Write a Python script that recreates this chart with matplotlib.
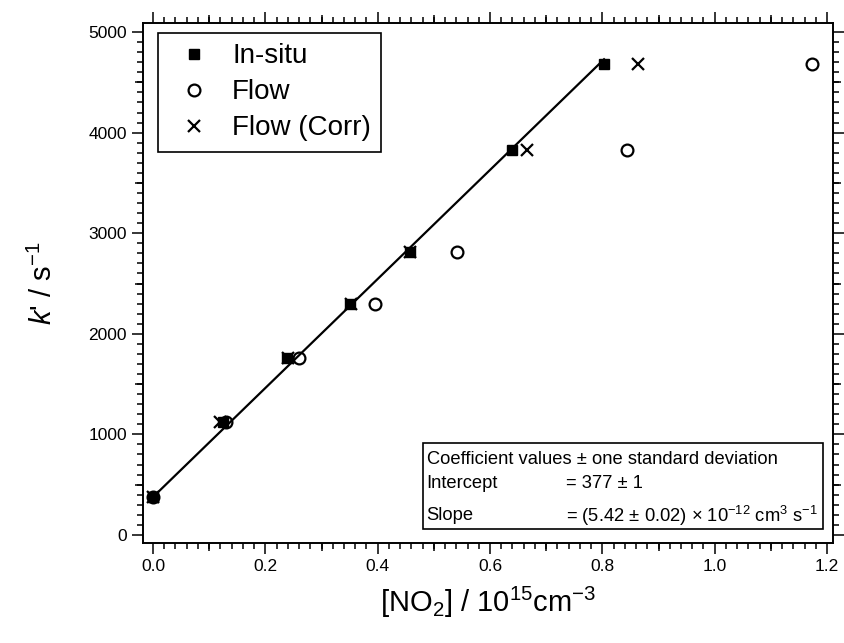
import matplotlib
matplotlib.use("Agg")
import matplotlib.pyplot as plt
from matplotlib.patches import Rectangle
from matplotlib.ticker import MultipleLocator, FormatStrFormatter
import numpy as np

plt.rcParams["font.family"] = ["Liberation Sans", "DejaVu Sans"]
plt.rcParams["mathtext.fontset"] = "custom"
plt.rcParams["mathtext.rm"] = "Liberation Sans"
plt.rcParams["mathtext.it"] = "Liberation Sans:italic"

# k' values (s^-1) shared by all three series
k_prime = [377, 1126, 1756, 2296, 2816, 3827, 4679]
# [NO2] / 1e15 cm^-3 for each method
no2_insitu = [0.0, 0.125, 0.238, 0.351, 0.457, 0.640, 0.803]
no2_flow = [0.0, 0.130, 0.260, 0.396, 0.541, 0.844, 1.173]
no2_corr = [0.0, 0.120, 0.240, 0.352, 0.458, 0.665, 0.863]

# fit coefficients
intercept = 377
slope = 5420  # per 1e15 cm^-3

fig = plt.figure(figsize=(8.44, 6.43), dpi=100)
ax = fig.add_axes([143 / 844, 1 - 543 / 643, 690 / 844, 520 / 643])

fit_x = np.array([0.0, max(no2_insitu)])
ax.plot(fit_x, intercept + slope * fit_x, color="black", lw=1.6, zorder=2)

ax.plot(no2_flow, k_prime, "o", ms=8.5, mfc="none", mec="black", mew=1.6,
        label="Flow", zorder=3)
ax.plot(no2_corr, k_prime, "x", ms=9, mec="black", mew=1.6,
        label="Flow (Corr)", zorder=4)
ax.plot(no2_insitu, k_prime, "s", ms=7.5, color="black",
        label="In-situ", zorder=5)

ax.set_xlim(-0.0178, 1.2106)
ax.set_ylim(-80, 5090)

ax.xaxis.set_major_locator(MultipleLocator(0.2))
ax.xaxis.set_minor_locator(MultipleLocator(0.02))
ax.yaxis.set_major_locator(MultipleLocator(1000))
ax.yaxis.set_minor_locator(MultipleLocator(100))
ax.xaxis.set_major_formatter(FormatStrFormatter("%.1f"))

ax.tick_params(which="both", direction="out", top=True, right=True,
               width=1.1, colors="black", labelsize=12.5)
ax.tick_params(which="major", length=8)
ax.tick_params(which="minor", length=4)
for s in ax.spines.values():
    s.set_linewidth(1.2)

# medium ticks (Igor style) at the half-way points
for loc in ["bottom", "top"]:
    sec = ax.secondary_xaxis(loc)
    sec.set_xticks(np.arange(0.1, 1.21, 0.2))
    sec.tick_params(length=6, width=1.1, direction="out",
                    labelbottom=False, labeltop=False)
    sec.spines[loc].set_linewidth(1.2)
for loc in ["left", "right"]:
    sec = ax.secondary_yaxis(loc)
    sec.set_yticks(np.arange(500, 5001, 1000))
    sec.tick_params(length=6, width=1.1, direction="out",
                    labelleft=False, labelright=False)
    sec.spines[loc].set_linewidth(1.2)

ax.set_xlabel("[NO$_2$] / 10$^{15}$cm$^{-3}$", fontsize=21, labelpad=8)
ax.set_ylabel("$k$' / s$^{-1}$", fontsize=21, labelpad=22)

handles, labels = ax.get_legend_handles_labels()
order = [2, 0, 1]
leg = ax.legend([handles[i] for i in order], [labels[i] for i in order],
                loc="upper left", bbox_to_anchor=(0.022, 0.981),
                fontsize=20, frameon=True, fancybox=False, edgecolor="black",
                framealpha=1, borderpad=0.38, labelspacing=0.36,
                handletextpad=0.48, handlelength=1.8, borderaxespad=0)
leg.get_frame().set_linewidth(1.2)

# coefficient box
ax.add_patch(Rectangle((0.406, 0.027), 0.579, 0.165, transform=ax.transAxes,
                       fill=False, edgecolor="black", lw=1.2, zorder=6))
tx0 = 0.411
tx1 = 0.613
fs = 13.2
ax.text(tx0, 0.160, "Coefficient values \u00b1 one standard deviation",
        transform=ax.transAxes, fontsize=fs, va="center")
ax.text(tx0, 0.114, "Intercept", transform=ax.transAxes, fontsize=fs, va="center")
ax.text(tx1, 0.114, "= %d \u00b1 1" % intercept, transform=ax.transAxes,
        fontsize=fs, va="center")
ax.text(tx0, 0.052, "Slope", transform=ax.transAxes, fontsize=fs, va="center")
ax.text(tx1, 0.052, "= (5.42 \u00b1 0.02) \u00d7 10$^{-12}$ cm$^{3}$ s$^{-1}$",
        transform=ax.transAxes, fontsize=fs, va="center")

fig.savefig("out.png", dpi=100)
